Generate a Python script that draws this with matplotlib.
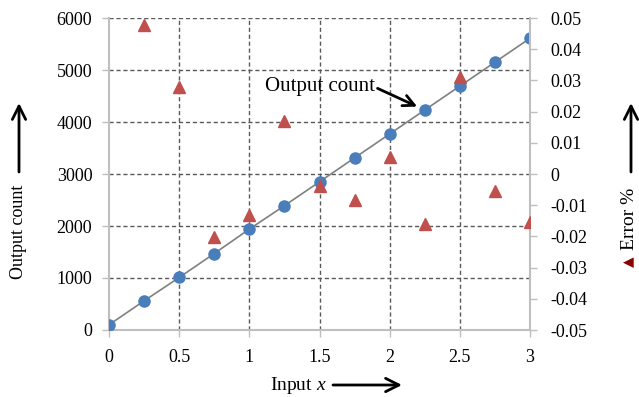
import matplotlib
matplotlib.use('Agg')
from matplotlib import pyplot as plt
from matplotlib.patches import FancyArrowPatch

# data
x_in = [0, 0.25, 0.5, 0.75, 1, 1.25, 1.5, 1.75, 2, 2.25, 2.5, 2.75, 3]
output_count = [100, 560, 1010, 1470, 1940, 2390, 2850, 3310, 3770, 4230, 4690, 5150, 5610]
err_x = [0.25, 0.5, 0.75, 1, 1.25, 1.5, 1.75, 2, 2.25, 2.5, 2.75, 3]
error_pct = [0.0478, 0.0279, -0.0202, -0.0131, 0.0170, -0.0038, -0.0083, 0.0054,
             -0.0160, 0.0311, -0.0054, -0.0154]

W, H = 639, 397
plt.rcParams['font.family'] = ['Liberation Serif', 'DejaVu Sans']
plt.rcParams['mathtext.fontset'] = 'custom'
plt.rcParams['mathtext.it'] = 'Liberation Serif:italic'
plt.rcParams['mathtext.rm'] = 'Liberation Serif'
fig = plt.figure(figsize=(W / 100, H / 100), dpi=100)
ax = fig.add_axes([109 / W, 1 - 330 / H, 421 / W, 312 / H])
ax2 = ax.twinx()

axis_gray = '#bfbfbf'
grid_gray = '#5a5a5a'

ax.plot(x_in, output_count, color='#808080', lw=1.2, zorder=2)
ax.plot(x_in, output_count, 'o', color='#4a7ebb', ms=8, zorder=3)
ax2.plot(err_x, error_pct, '^', color='#c0504d', ms=8, zorder=3)

ax.set_xlim(0, 3)
ax.set_ylim(0, 6000)
ax.set_xticks([0, 0.5, 1, 1.5, 2, 2.5, 3])
ax.set_xticklabels(['0', '0.5', '1', '1.5', '2', '2.5', '3'])
ax.set_yticks(range(0, 6001, 1000))
ax2.set_ylim(-0.05, 0.05)
ticks2 = [i / 100 for i in range(-5, 6)]
ax2.set_yticks(ticks2)
ax2.set_yticklabels(['0' if t == 0 else f'{t:.2f}' for t in ticks2])

for a in (ax, ax2):
    for s in a.spines.values():
        s.set_visible(False)
    a.tick_params(labelsize=13, color=axis_gray, length=5, width=1)
ax.spines['left'].set_visible(True)
ax.spines['bottom'].set_visible(True)
ax2.spines['right'].set_visible(True)
for s in (ax.spines['left'], ax.spines['bottom'], ax2.spines['right']):
    s.set_color(axis_gray)
    s.set_linewidth(1.5)
ax.tick_params(axis='x', pad=9)
ax.tick_params(axis='y', pad=7)
ax2.tick_params(axis='y', pad=10)

ax.grid(True, ls=(0, (3, 2)), color=grid_gray, lw=1)
ax.set_axisbelow(True)
for gl in ax.get_xgridlines()[:1] + ax.get_xgridlines()[-1:] + ax.get_ygridlines()[:1]:
    gl.set_visible(False)

ax.annotate('Output count', xy=(2.25, 4230), xytext=(1.11, 4690),
            fontsize=15, va='center', ha='left',
            arrowprops=dict(arrowstyle='->', lw=2, mutation_scale=20,
                            relpos=(1.0, 0.45), shrinkA=0, shrinkB=6))


def fp(px, py):
    return (px / W, 1 - py / H)


arrow = dict(arrowstyle='->', lw=2, mutation_scale=24, shrinkA=0, shrinkB=0)
fig.text(*fp(19, 232), 'Output count', rotation=90, fontsize=13,
         ha='center', va='center')
fig.add_artist(FancyArrowPatch(fp(19, 172), fp(19, 103),
                               transform=fig.transFigure, **arrow))

fig.text(*fp(298, 385), 'Input $\\it{x}$', fontsize=14, ha='center', va='center')
fig.add_artist(FancyArrowPatch(fp(333, 385), fp(402, 385),
                               transform=fig.transFigure, **arrow))

fig.text(*fp(630, 219), 'Error %', rotation=90, fontsize=14,
         ha='center', va='center')
fig.text(*fp(628, 262), '▲', rotation=90, fontsize=10, color='#8b0000',
         ha='center', va='center', family='DejaVu Sans')
fig.add_artist(FancyArrowPatch(fp(631, 172), fp(631, 103),
                               transform=fig.transFigure, **arrow))

fig.savefig('out.png', dpi=100)
